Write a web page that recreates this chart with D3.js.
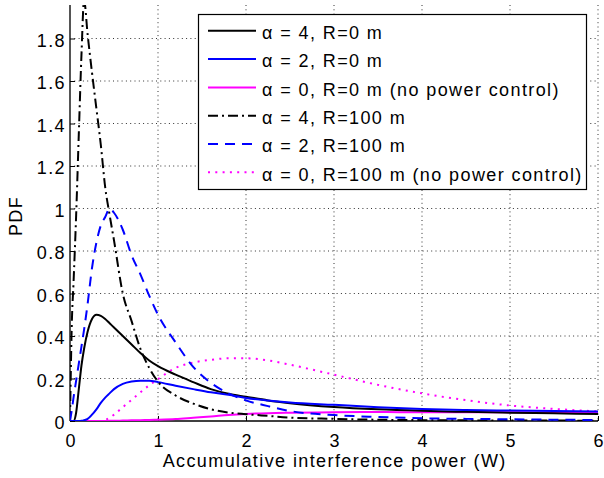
<!DOCTYPE html>
<html><head><meta charset="utf-8">
<script src="https://cdn.jsdelivr.net/npm/d3@7"></script>
<style>body{margin:0;background:#fff}svg{display:block}text{font-family:"Liberation Sans",Arial,sans-serif;letter-spacing:1.4px}</style>
</head><body><svg id="c" width="604" height="478"></svg>
<script>
const xGrid = [0,0.02,0.04,0.07,0.1,0.13,0.16,0.2,0.25,0.3,0.35,0.4,0.45,0.5,0.6,0.7,0.8,0.9,1.0,1.2,1.4,1.6,1.8,2.0,2.25,2.5,3,3.5,4,4.5,5,5.5,6];
const a4r0 = [0,0,0,0.04,0.15,0.26,0.34,0.42,0.48,0.5,0.495,0.48,0.46,0.44,0.4,0.36,0.32,0.285,0.258,0.218,0.183,0.15,0.128,0.114,0.097,0.084,0.066,0.055,0.048,0.043,0.039,0.036,0.033];
const a2r0 = [0,0,0,0,0,0.001,0.004,0.01,0.03,0.055,0.085,0.11,0.13,0.15,0.175,0.186,0.19,0.19,0.183,0.166,0.15,0.135,0.123,0.108,0.096,0.087,0.076,0.065,0.057,0.052,0.049,0.047,0.045];
const a0r0 = [0,0,0,0,0,0,0,0,0,0,0,0,0.001,0.001,0.002,0.003,0.004,0.005,0.006,0.009,0.015,0.021,0.028,0.033,0.037,0.039,0.041,0.042,0.041,0.041,0.041,0.04,0.04];
const a4r100 = [0,0.45,0.65,0.97,1.35,1.72,1.98,1.82,1.64,1.47,1.3,1.1,0.97,0.85,0.6,0.47,0.34,0.25,0.185,0.12,0.082,0.055,0.04,0.032,0.024,0.016,0.01,0.006,0.004,0.003,0.002,0.002,0.001];
const a2r100 = [0,0.05,0.11,0.19,0.27,0.35,0.43,0.55,0.72,0.84,0.92,0.96,1.0,0.98,0.9,0.78,0.69,0.59,0.5,0.37,0.255,0.18,0.13,0.097,0.07,0.047,0.028,0.019,0.013,0.01,0.008,0.006,0.005];
const a0r100 = [0,0,0,0,0,0,0,0,0,0,0,0.005,0.015,0.03,0.065,0.1,0.135,0.168,0.197,0.25,0.275,0.288,0.295,0.295,0.285,0.265,0.218,0.17,0.13,0.098,0.073,0.057,0.045];
const seriesNames = ["α = 4, R=0 m","α = 2, R=0 m","α = 0, R=0 m (no power control)","α = 4, R=100 m","α = 2, R=100 m","α = 0, R=100 m (no power control)"];
const xTicks = [0,1,2,3,4,5,6];
const yTicks = [0,0.2,0.4,0.6,0.8,1,1.2,1.4,1.6,1.8];
const xLabel = "Accumulative interference power (W)";
const yLabel = "PDF";

const styles = [
  {c:"#000000", d:null},
  {c:"#0000ff", d:null},
  {c:"#ff00ff", d:null},
  {c:"#000000", d:"10,4,2,4"},
  {c:"#0000ff", d:"10,7"},
  {c:"#ff00ff", d:"2,5.3"}
];
const data = [a4r0,a2r0,a0r0,a4r100,a2r100,a0r100];

const svg = d3.select("#c");
const L=70, R=598, T=5, B=421;
const x = d3.scaleLinear().domain([0,6]).range([L,R]);
const y = d3.scaleLinear().domain([0,1.8]).range([B,B-1.8*212.5]);

svg.append("defs").append("clipPath").attr("id","clip").append("rect")
  .attr("x",L).attr("y",T).attr("width",R-L).attr("height",B-T);

// grid
const g = svg.append("g");
xTicks.forEach(t=>{ if(t>0) g.append("line").attr("x1",x(t)).attr("x2",x(t)).attr("y1",T).attr("y2",B)
  .attr("stroke","#333").attr("stroke-width",1).attr("stroke-dasharray","1,3.3");});
yTicks.forEach(t=>{ if(t>0) g.append("line").attr("x1",L).attr("x2",R).attr("y1",y(t)).attr("y2",y(t))
  .attr("stroke","#333").attr("stroke-width",1).attr("stroke-dasharray","1,3.3");});

// axes
const xa = svg.append("g").attr("transform",`translate(0,${B})`)
  .call(d3.axisBottom(x).tickValues(xTicks).tickSizeInner(-5).tickSizeOuter(0).tickPadding(13).tickFormat(d3.format("d")));
const ya = svg.append("g").attr("transform",`translate(${L},0)`)
  .call(d3.axisLeft(y).tickValues(yTicks).tickSizeInner(-5).tickSizeOuter(0).tickPadding(4).tickFormat(d=>d===0?"0":(d===1?"1":d3.format(".1f")(d))));
[xa,ya].forEach(a=>{a.selectAll("text").attr("font-size",18).attr("fill","#000").attr("font-family","Liberation Sans, Arial, sans-serif");
  a.selectAll("line").attr("stroke","#000"); a.select(".domain").attr("stroke","#000").attr("stroke-width",1.3);});
ya.selectAll("text").attr("dy","0.42em");
xa.selectAll("text").attr("dx","0.7");
ya.select(".domain").attr("d",`M0,${B}V${T}`).attr("stroke","#555").attr("stroke-width",2);
xa.select(".domain").attr("d",`M${L},0H${R}`);

// lines
const line = d3.line().x((d,i)=>x(xGrid[i])).y(d=>y(d)).curve(d3.curveMonotoneX);
const pl = svg.append("g").attr("clip-path","url(#clip)");
[2,5,0,1,3,4].forEach(i=>{
  pl.append("path").attr("d",line(data[i])).attr("fill","none").attr("stroke",styles[i].c)
    .attr("stroke-width",2).attr("stroke-dasharray",styles[i].d);
});

// labels
svg.append("text").attr("x",(L+R)/2+0.7).attr("y",466.5).attr("text-anchor","middle").attr("font-size",18).text(xLabel);
svg.append("text").attr("transform","translate(22,216) rotate(-90)").attr("text-anchor","middle").attr("font-size",18).text(yLabel);

// legend
const lg = svg.append("g");
lg.append("rect").attr("x",198.5).attr("y",14.5).attr("width",388).attr("height",175).attr("fill","#fff").attr("stroke","#000").attr("stroke-width",1.2);
seriesNames.forEach((n,i)=>{
  const yy = 30.8 + i*28.3;
  lg.append("line").attr("x1",208).attr("x2",256).attr("y1",yy).attr("y2",yy).attr("stroke",styles[i].c).attr("stroke-width",2).attr("stroke-dasharray",styles[i].d);
  lg.append("text").attr("x",262).attr("y",yy+8.3).attr("font-size",18).text(n);
});
</script></body></html>
